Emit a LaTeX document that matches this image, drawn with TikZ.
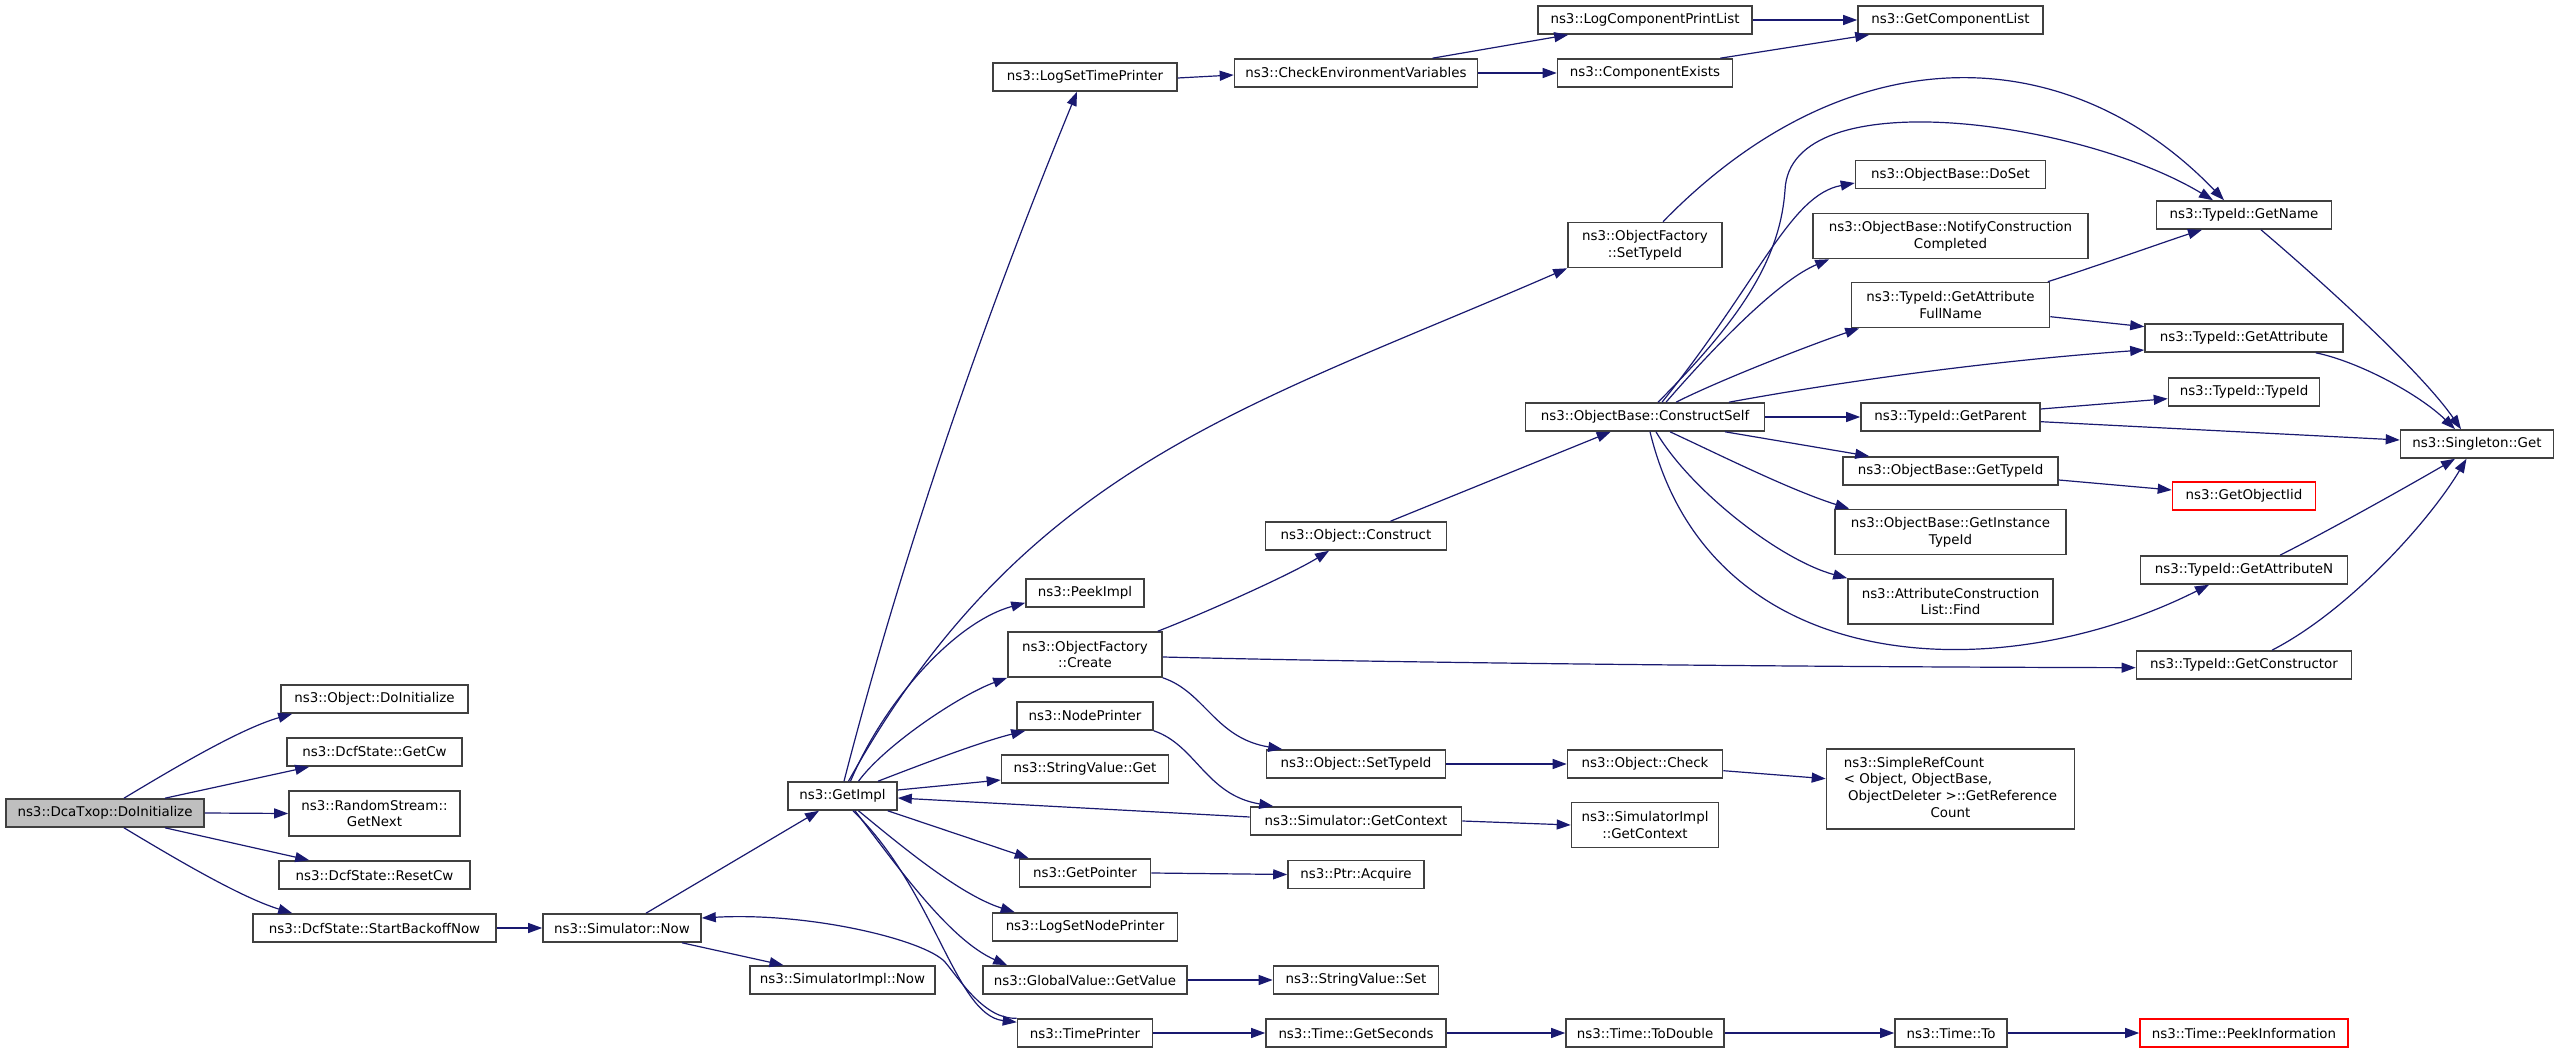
\documentclass[tikz,border=0pt]{standalone}
\usepackage{fontspec}
\setmainfont{DejaVu Sans}
\usetikzlibrary{arrows.meta}
\definecolor{edgeblue}{HTML}{191970}
\definecolor{nodeline}{HTML}{404040}
\definecolor{rootfill}{HTML}{BFBFBF}
\begin{document}
\begin{tikzpicture}[x=0.5pt,y=-0.5pt,
  fn/.style={draw=nodeline, line width=0.8pt, fill=white, inner sep=0pt, minimum height=14pt,
     font=\fontsize{6.7pt}{8.35pt}\selectfont, align=center},
  bw/.style={minimum width=#1*0.5pt},
  two/.style={minimum height=22.5pt},
  redbox/.style={draw=red},
  call/.style={draw=edgeblue, line width=0.6pt, -{Triangle[length=7pt,width=5pt]}}]
\fill[white] (0,0) rectangle (2560,1053);
\useasboundingbox (0,0) rectangle (2560,1053);
% column 1-3
\node[fn,bw=198,fill=rootfill] (dca) at (105,813) {ns3::DcaTxop::DoInitialize};
\node[fn,bw=187] (objdoinit) at (374.5,699) {ns3::Object::DoInitialize};
\node[fn,bw=175] (getcw) at (374.5,752) {ns3::DcfState::GetCw};
\node[fn,bw=171,two] (rsgetnext) at (374.5,813.5) {ns3::RandomStream::\\GetNext};
\node[fn,bw=191] (resetcw) at (374.5,875) {ns3::DcfState::ResetCw};
\node[fn,bw=243] (startbackoff) at (374.5,928) {ns3::DcfState::StartBackoffNow};
\node[fn,bw=158] (simnow) at (622,928) {ns3::Simulator::Now};
\node[fn,bw=109] (getimpl) at (842.5,796) {ns3::GetImpl};
\node[fn,bw=185] (simimplnow) at (842.5,980) {ns3::SimulatorImpl::Now};
% column 4
\node[fn,bw=184] (logsettimeprinter) at (1085,77) {ns3::LogSetTimePrinter};
\node[fn,bw=118] (peekimpl) at (1085,593) {ns3::PeekImpl};
\node[fn,bw=154,two] (ofcreate) at (1085,654.5) {ns3::ObjectFactory\\::Create};
\node[fn,bw=136] (nodeprinter) at (1085,716) {ns3::NodePrinter};
\node[fn,bw=167] (svget) at (1085,769) {ns3::StringValue::Get};
\node[fn,bw=131] (getpointer) at (1085,873) {ns3::GetPointer};
\node[fn,bw=185] (logsetnodeprinter) at (1085,927) {ns3::LogSetNodePrinter};
\node[fn,bw=204] (gvgetvalue) at (1085,980) {ns3::GlobalValue::GetValue};
\node[fn,bw=135] (timeprinter) at (1085,1033) {ns3::TimePrinter};
% column 5
\node[fn,bw=243] (checkenv) at (1356,73) {ns3::CheckEnvironmentVariables};
\node[fn,bw=181] (objconstruct) at (1356,536) {ns3::Object::Construct};
\node[fn,bw=179] (objsettypeid) at (1356,764) {ns3::Object::SetTypeId};
\node[fn,bw=211] (simgetcontext) at (1356,821) {ns3::Simulator::GetContext};
\node[fn,bw=136] (ptracquire) at (1356,874.5) {ns3::Ptr::Acquire};
\node[fn,bw=165] (svset) at (1356,980) {ns3::StringValue::Set};
\node[fn,bw=180] (timegetseconds) at (1356,1033) {ns3::Time::GetSeconds};
% column 6
\node[fn,bw=214] (logcompprintlist) at (1645,20) {ns3::LogComponentPrintList};
\node[fn,bw=175] (compexists) at (1645,73) {ns3::ComponentExists};
\node[fn,bw=154,two] (ofsettypeid) at (1645,245) {ns3::ObjectFactory\\::SetTypeId};
\node[fn,bw=239] (constructself) at (1645,417) {ns3::ObjectBase::ConstructSelf};
\node[fn,bw=155] (objcheck) at (1645,764) {ns3::Object::Check};
\node[fn,bw=147,two] (simimplgetcontext) at (1645,825) {ns3::SimulatorImpl\\::GetContext};
\node[fn,bw=158] (timetodouble) at (1645,1033) {ns3::Time::ToDouble};
% column 7
\node[fn,bw=185] (getcomponentlist) at (1950.5,20) {ns3::GetComponentList};
\node[fn,bw=190] (dosset) at (1950.5,174.5) {ns3::ObjectBase::DoSet};
\node[fn,bw=275,two] (notifycc) at (1950.5,236) {ns3::ObjectBase::NotifyConstruction\\Completed};
\node[fn,bw=198,two] (getattrfullname) at (1950.5,305) {ns3::TypeId::GetAttribute\\FullName};
\node[fn,bw=179] (getparent) at (1950.5,417) {ns3::TypeId::GetParent};
\node[fn,bw=215] (obgettypeid) at (1950.5,471) {ns3::ObjectBase::GetTypeId};
\node[fn,bw=231,two] (getinstancetypeid) at (1950.5,532) {ns3::ObjectBase::GetInstance\\TypeId};
\node[fn,bw=205,two] (attrconstrfind) at (1950.5,601.5) {ns3::AttributeConstruction\\List::Find};
\node[fn,bw=248,minimum height=40pt] (simplerefcount) at (1950.5,789)
  {\begin{tabular}{@{}l@{}}ns3::SimpleRefCount\\< Object, ObjectBase,\\\ ObjectDeleter >::GetReference\\\multicolumn{1}{@{}c@{}}{Count}\end{tabular}};
\node[fn,bw=112] (timeto) at (1951,1033) {ns3::Time::To};
% column 8-9
\node[fn,bw=175] (getname) at (2244,215) {ns3::TypeId::GetName};
\node[fn,bw=198] (getattribute) at (2244,338) {ns3::TypeId::GetAttribute};
\node[fn,bw=151] (typeidtypeid) at (2244,392) {ns3::TypeId::TypeId};
\node[fn,bw=143,redbox] (getobjectiid) at (2244,496) {ns3::GetObjectIid};
\node[fn,bw=207] (getattributen) at (2244,570) {ns3::TypeId::GetAttributeN};
\node[fn,bw=215] (getconstructor) at (2244,665) {ns3::TypeId::GetConstructor};
\node[fn,bw=208,redbox] (peekinformation) at (2244,1033) {ns3::Time::PeekInformation};
\node[fn,bw=153] (singletonget) at (2477,444) {ns3::Singleton::Get};

% edges from DcaTxop::DoInitialize
\draw[call] ([xshift=9.5pt]dca.north) .. controls (184,762) and (243,728) .. ([xshift=6pt]objdoinit.south west);
\draw[call] ([xshift=30pt]dca.north) -- ([xshift=11.5pt]getcw.south west);
\draw[call] (dca.east) -- (rsgetnext.west);
\draw[call] ([xshift=30pt]dca.south) -- ([xshift=15.5pt]resetcw.north west);
\draw[call] ([xshift=9.5pt]dca.south) .. controls (184,864) and (243,898) .. ([xshift=20pt]startbackoff.north west);
\draw[call] (startbackoff.east) -- (simnow.west);
% Simulator::Now
\draw[call] ([xshift=12pt]simnow.north) -- ([xshift=-11.75pt]getimpl.south);
\draw[call] ([xshift=30pt]simnow.south) -- ([xshift=-29.5pt]simimplnow.north);
% GetImpl fan out
\draw[call] ([xshift=0.75pt]getimpl.north) .. controls (903,552) and (983,321) .. ([xshift=-4pt]logsettimeprinter.south);
\draw[call] ([xshift=3pt]getimpl.north) .. controls (1025,465) and (1246,408) .. (ofsettypeid.south west);
\draw[call] ([xshift=4pt]getimpl.north) .. controls (885,700) and (955,622) .. ([yshift=2.5pt]peekimpl.south west);
\draw[call] ([xshift=8pt]getimpl.north) .. controls (885,745) and (960,695) .. (ofcreate.south west);
\draw[call] ([xshift=17.75pt]getimpl.north) .. controls (920,765) and (980,742) .. ([xshift=4.5pt]nodeprinter.south west);
\draw[call] ([yshift=3pt]getimpl.east) -- ([yshift=-5.5pt]svget.west);
\draw[call] ([yshift=2pt]simgetcontext.west) -- ([yshift=-1pt]getimpl.east);
\draw[call] ([xshift=-5pt]getimpl.south east) -- ([xshift=5pt]getpointer.north west);
\draw[call] ([xshift=8pt]getimpl.south) .. controls (900,845) and (960,895) .. ([xshift=11.5pt]logsetnodeprinter.north west);
\draw[call] ([xshift=6.25pt]getimpl.south) .. controls (900,870) and (950,940) .. ([xshift=12.5pt]gvgetvalue.north west);
\draw[call] ([xshift=5.25pt]getimpl.south) .. controls (935,890) and (955,1015) .. ([yshift=-2pt]timeprinter.north west);
\draw[call] (timeprinter.north west) .. controls (985,1020) and (960,980) .. (945,962)
   .. controls (925,940) and (810,912) .. ([yshift=5pt]simnow.east);
% column 4 onward
\draw[call] ([yshift=-0.5pt]logsettimeprinter.east) -- ([yshift=-1pt]checkenv.west);
\draw[call] ([xshift=38.25pt]checkenv.north) -- ([xshift=15.5pt]logcompprintlist.south west);
\draw[call] (checkenv.east) -- (compexists.west);
\draw[call] (logcompprintlist.east) -- (getcomponentlist.west);
\draw[call] ([xshift=-6.5pt]compexists.north east) -- ([xshift=6pt]getcomponentlist.south west);
\draw[call] ([xshift=-2.5pt]ofcreate.north east) .. controls (1200,615) and (1290,575) .. ([xshift=-13.5pt]objconstruct.south);
\draw[call] ([yshift=-1.25pt]ofcreate.east) .. controls (1450,664) and (1850,667) .. ([yshift=-1.35pt]getconstructor.west);
\draw[call] (ofcreate.south east) .. controls (1205,692) and (1215,738) .. ([xshift=8.25pt]objsettypeid.north west);
\draw[call] (nodeprinter.south east) .. controls (1196,745) and (1206,795) .. ([xshift=11.75pt]simgetcontext.north west);
\draw[call] (objsettypeid.east) -- (objcheck.west);
\draw[call] (simgetcontext.east) -- (simimplgetcontext.west);
\draw[call] (getpointer.east) -- (ptracquire.west);
\draw[call] (gvgetvalue.east) -- (svset.west);
\draw[call] (timeprinter.east) -- (timegetseconds.west);
\draw[call] (timegetseconds.east) -- (timetodouble.west);
\draw[call] (timetodouble.east) -- (timeto.west);
\draw[call] (timeto.east) -- (peekinformation.west);
\draw[call] ([yshift=-3.35pt]objcheck.east) -- ([yshift=5.15pt]simplerefcount.west);
\draw[call] ([xshift=17.25pt]objconstruct.north) -- ([xshift=-17.15pt]constructself.south);
% to GetName
\draw[call] ([xshift=9pt]ofsettypeid.north) .. controls (1850,30) and (2070,40) .. ([xshift=-10pt]getname.north);
\draw[call] ([xshift=6.5pt]constructself.north) .. controls (1740,320) and (1780,260) .. (1785,190)
   .. controls (1790,80) and (2080,120) .. ([xshift=-15.5pt]getname.north);
% ConstructSelf fan out
\draw[call] ([xshift=8.5pt]constructself.north) .. controls (1760,280) and (1790,195) .. ([yshift=-4.25pt]dosset.west);
\draw[call] ([xshift=10.5pt]constructself.north) .. controls (1720,340) and (1780,280) .. ([xshift=8.5pt]notifycc.south west);
\draw[call] ([xshift=15.5pt]constructself.north) .. controls (1720,380) and (1810,345) .. ([xshift=4.25pt]getattrfullname.south west);
\draw[call] ([xshift=42pt]constructself.north) .. controls (1850,380) and (2000,360) .. ([yshift=-6pt]getattribute.west);
\draw[call] (constructself.east) -- (getparent.west);
\draw[call] ([xshift=40pt]constructself.south) -- ([xshift=13.5pt]obgettypeid.north west);
\draw[call] ([xshift=12.5pt]constructself.south) .. controls (1720,455) and (1790,490) .. ([xshift=7.5pt]getinstancetypeid.north west);
\draw[call] ([xshift=5.5pt]constructself.south) .. controls (1690,490) and (1780,560) .. (attrconstrfind.north west);
\draw[call] ([xshift=2.5pt]constructself.south) .. controls (1710,680) and (2000,690) .. ([xshift=-17.5pt]getattributen.south);
% TypeId calls
\draw[call] ([xshift=-1.25pt]getattrfullname.north east) .. controls (2100,265) and (2170,240) .. ([xshift=-21pt]getname.south);
\draw[call] ([yshift=-5.85pt]getattrfullname.east) -- ([yshift=5.65pt]getattribute.west);
\draw[call] ([yshift=4pt]getparent.east) -- ([yshift=-3.35pt]typeidtypeid.west);
\draw[call] ([yshift=-4.5pt]obgettypeid.east) -- ([yshift=3pt]getobjectiid.west);
% to Singleton::Get
\draw[call] ([xshift=8.5pt]getname.south) .. controls (2320,280) and (2420,370) .. ([xshift=-8pt]singletonget.north);
\draw[call] ([xshift=-14pt]getattribute.south east) .. controls (2360,362) and (2420,395) .. ([xshift=-11pt]singletonget.north);
\draw[call] ([yshift=-2.35pt]getparent.east) -- ([yshift=2pt]singletonget.west);
\draw[call] ([xshift=18pt]getattributen.north) .. controls (2330,530) and (2410,485) .. ([xshift=-11pt]singletonget.south);
\draw[call] ([xshift=14pt]getconstructor.north) .. controls (2350,610) and (2430,520) .. ([xshift=-5.25pt]singletonget.south);
\end{tikzpicture}
\end{document}
